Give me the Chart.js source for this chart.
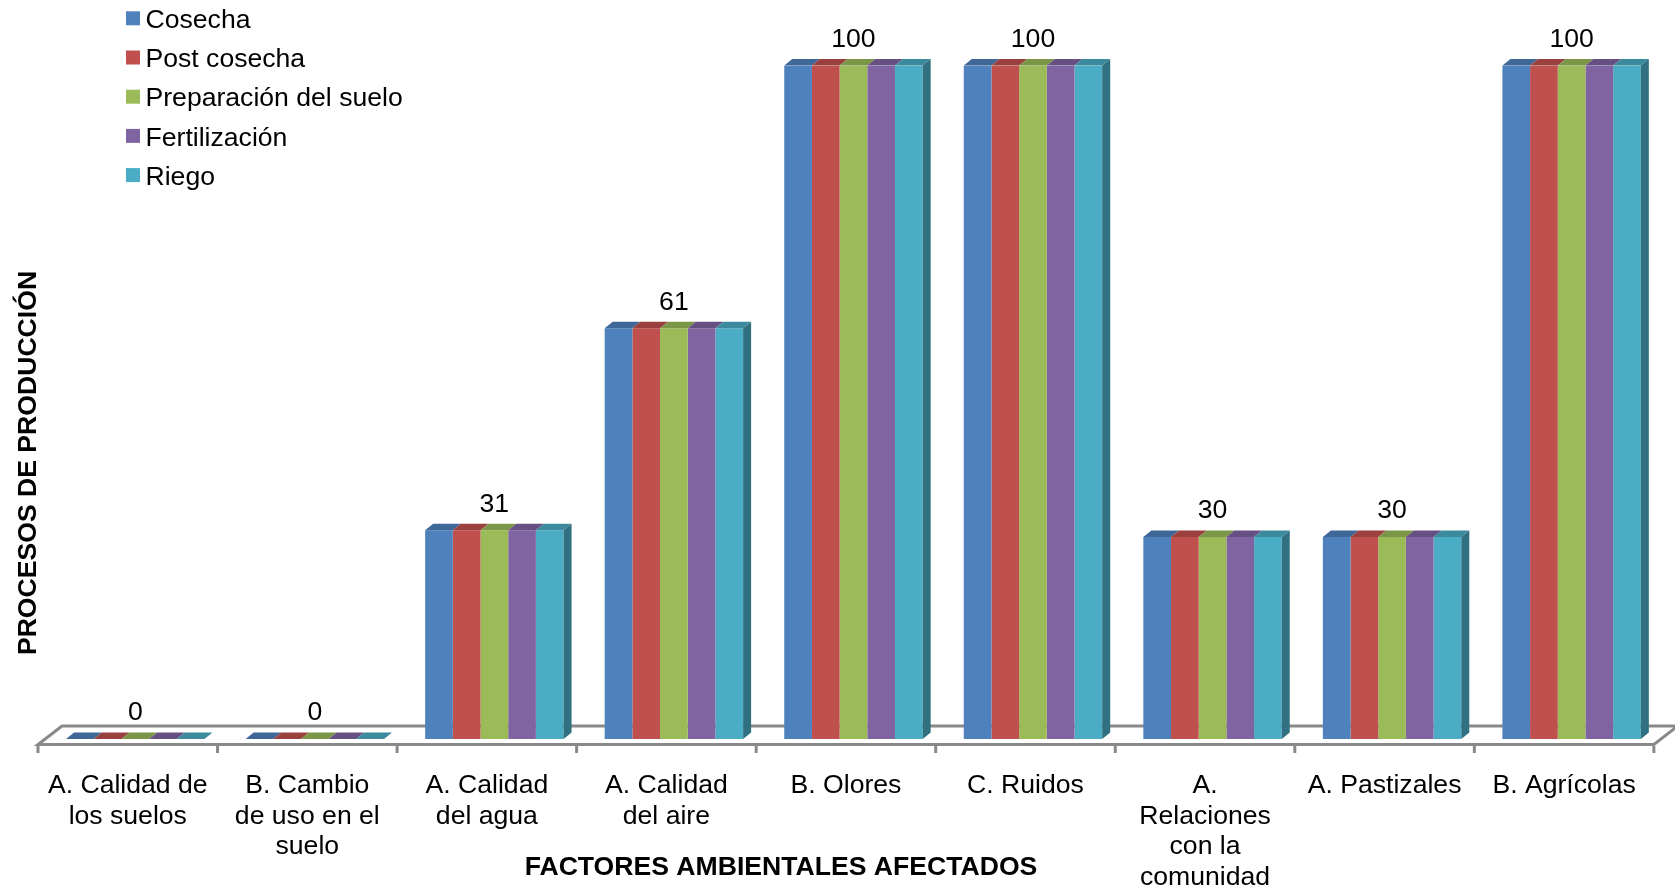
<!DOCTYPE html>
<html>
<head>
<meta charset="utf-8">
<script src="https://cdn.jsdelivr.net/npm/chart.js@4.4.1/dist/chart.umd.min.js"></script>
<style>
  html, body { margin: 0; padding: 0; background: #ffffff; }
  canvas { display: block; }
</style>
</head>
<body>
<canvas id="chart" width="1675" height="891"></canvas>
<script>
// Environmental factors affected (x categories)
const categories = [
  ['A. Calidad de', 'los suelos'],
  ['B. Cambio', 'de uso en el', 'suelo'],
  ['A. Calidad', 'del agua'],
  ['A. Calidad', 'del aire'],
  'B. Olores',
  'C. Ruidos',
  ['A.', 'Relaciones', 'con la', 'comunidad'],
  'A. Pastizales',
  'B. Agrícolas'
];

// Production processes (one series each)
const cosecha          = [0, 0, 31, 61, 100, 100, 30, 30, 100];
const postCosecha      = [0, 0, 31, 61, 100, 100, 30, 30, 100];
const preparacionSuelo = [0, 0, 31, 61, 100, 100, 30, 30, 100];
const fertilizacion    = [0, 0, 31, 61, 100, 100, 30, 30, 100];
const riego            = [0, 0, 31, 61, 100, 100, 30, 30, 100];

const seriesNames  = ['Cosecha', 'Post cosecha', 'Preparación del suelo', 'Fertilización', 'Riego'];
const seriesValues = [cosecha, postCosecha, preparacionSuelo, fertilizacion, riego];
const seriesColors = ['#4F81BD', '#C0504D', '#9BBB59', '#8064A2', '#4BACC6'];

const xTitle = 'FACTORES AMBIENTALES AFECTADOS';
const yTitle = 'PROCESOS DE PRODUCCIÓN';

const FONT = '"Liberation Sans", Arial, "DejaVu Sans", sans-serif';
const FONT_SIZE = 26.6;
const DEPTH_X = 8;        // bar top/side depth
const DEPTH_Y = 6.5;
const FLOOR_SHIFT = 7.5;  // floor front edge sits in front of bars
const FLOOR_DX = 24;
const FLOOR_FRONT = 744.5;
const FLOOR_BACK = 726;
const LABEL_DATASET = 2;  // value labels sit above the middle series

function shade(hex, f) {
  const n = parseInt(hex.slice(1), 16);
  const r = Math.round(((n >> 16) & 255) * f);
  const g = Math.round(((n >> 8) & 255) * f);
  const b = Math.round((n & 255) * f);
  return `rgb(${r},${g},${b})`;
}

const bars3d = {
  id: 'bars3d',
  beforeDatasetsDraw(chart) {
    const ctx = chart.ctx;
    const xs = chart.scales.x;
    const left = xs.left - FLOOR_SHIFT;
    const right = xs.right - FLOOR_SHIFT;
    ctx.save();
    // floor slab
    ctx.beginPath();
    ctx.moveTo(left, FLOOR_FRONT);
    ctx.lineTo(right, FLOOR_FRONT);
    ctx.lineTo(right + FLOOR_DX, FLOOR_BACK);
    ctx.lineTo(left + FLOOR_DX, FLOOR_BACK);
    ctx.closePath();
    ctx.fillStyle = '#ffffff';
    ctx.fill();
    ctx.strokeStyle = '#898989';
    ctx.lineWidth = 3;
    ctx.lineJoin = 'miter';
    ctx.stroke();
    // category tick marks
    const n = categories.length;
    const step = (xs.right - xs.left) / n;
    ctx.beginPath();
    for (let i = 0; i <= n; i++) {
      const x = left + i * step;
      ctx.moveTo(x, FLOOR_FRONT + 1.5);
      ctx.lineTo(x, FLOOR_FRONT + 8.5);
    }
    ctx.lineWidth = 3;
    ctx.stroke();
    ctx.restore();
  },
  afterDatasetsDraw(chart) {
    const ctx = chart.ctx;
    const last = chart.data.datasets.length - 1;
    ctx.save();
    chart.data.datasets.forEach((ds, di) => {
      const meta = chart.getDatasetMeta(di);
      meta.data.forEach((bar) => {
        const p = bar.getProps(['x', 'y', 'base', 'width'], true);
        const l = p.x - p.width / 2;
        const r = p.x + p.width / 2;
        const top = Math.min(p.y, p.base);
        // top face
        ctx.beginPath();
        ctx.moveTo(l, top);
        ctx.lineTo(r, top);
        ctx.lineTo(r + DEPTH_X, top - DEPTH_Y);
        ctx.lineTo(l + DEPTH_X, top - DEPTH_Y);
        ctx.closePath();
        ctx.fillStyle = shade(ds.backgroundColor, 0.8);
        ctx.fill();
        // visible right side face of each cluster
        if (di === last && p.base - top > 0.5) {
          ctx.beginPath();
          ctx.moveTo(r, top);
          ctx.lineTo(r + DEPTH_X, top - DEPTH_Y);
          ctx.lineTo(r + DEPTH_X, p.base - DEPTH_Y);
          ctx.lineTo(r, p.base);
          ctx.closePath();
          ctx.fillStyle = shade(ds.backgroundColor, 0.65);
          ctx.fill();
        }
      });
    });
    // value labels
    const meta = chart.getDatasetMeta(LABEL_DATASET);
    const vals = chart.data.datasets[LABEL_DATASET].data;
    ctx.fillStyle = '#000000';
    ctx.font = FONT_SIZE + 'px ' + FONT;
    ctx.textAlign = 'center';
    ctx.textBaseline = 'middle';
    meta.data.forEach((bar, i) => {
      ctx.fillText(String(vals[i]), bar.x, bar.y - 26);
    });
    ctx.restore();
  },
  afterDraw(chart) {
    const ctx = chart.ctx;
    ctx.save();
    // legend
    ctx.font = FONT_SIZE + 'px ' + FONT;
    ctx.textAlign = 'left';
    ctx.textBaseline = 'alphabetic';
    chart.data.datasets.forEach((ds, i) => {
      const cy = 18.3 + i * 39.2;
      ctx.fillStyle = ds.backgroundColor;
      ctx.fillRect(126, cy - 7, 14, 14);
      ctx.fillStyle = '#000000';
      ctx.fillText(ds.label, 145.5, cy + 9.6);
    });
    // axis titles
    ctx.font = 'bold ' + FONT_SIZE + 'px ' + FONT;
    ctx.textAlign = 'center';
    ctx.textBaseline = 'middle';
    ctx.fillText(xTitle, 781, 868);
    ctx.translate(29, 463);
    ctx.rotate(-Math.PI / 2);
    ctx.fillText(yTitle, 0, 0);
    ctx.restore();
  }
};

new Chart(document.getElementById('chart'), {
  type: 'bar',
  data: {
    labels: categories,
    datasets: seriesNames.map((name, i) => ({
      label: name,
      data: seriesValues[i],
      backgroundColor: seriesColors[i],
      borderWidth: 0,
      categoryPercentage: 0.771,
      barPercentage: 1.0
    }))
  },
  options: {
    responsive: false,
    animation: false,
    devicePixelRatio: 1,
    layout: { padding: { left: 45.5, right: 12.5, top: 65.5, bottom: 0 } },
    plugins: {
      legend: { display: false },
      title: { display: false },
      tooltip: { enabled: false }
    },
    scales: {
      y: { display: false, min: 0, max: 100 },
      x: {
        grid: { display: false, drawTicks: false },
        border: { display: false },
        ticks: {
          color: '#000000',
          font: { family: FONT, size: FONT_SIZE, lineHeight: 1.16 },
          padding: 31,
          autoSkip: false,
          maxRotation: 0,
          minRotation: 0,
          labelOffset: -FLOOR_SHIFT
        },
        afterFit(axis) { axis.height = 891 - 739; }
      }
    }
  },
  plugins: [bars3d]
});
</script>
</body>
</html>
